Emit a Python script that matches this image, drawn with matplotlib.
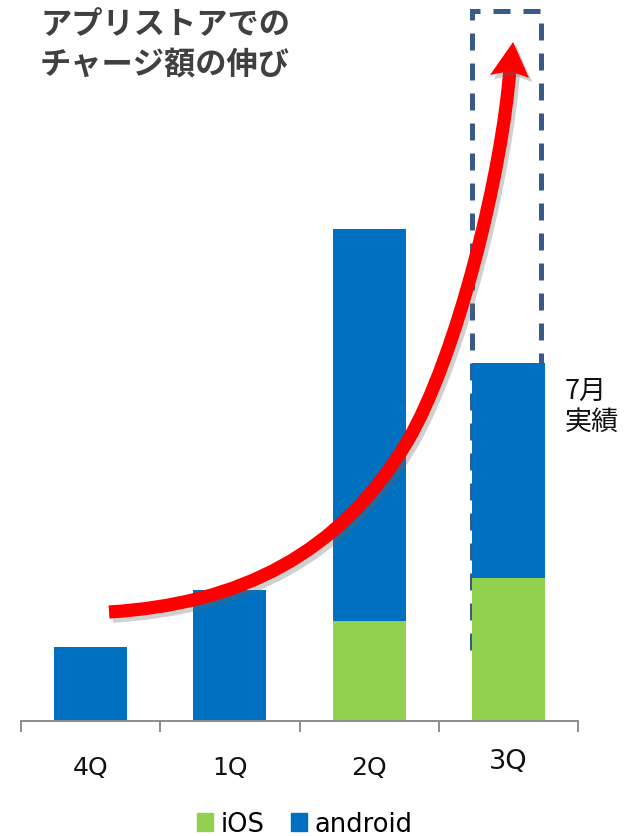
import matplotlib

matplotlib.use("Agg")
import matplotlib.pyplot as plt
import matplotlib.patheffects as pe
from matplotlib.patches import PathPatch, Polygon, Rectangle
from matplotlib.path import Path
import numpy as np

# data (chart units)
quarters = ["4Q", "1Q", "2Q", "3Q"]
ios = [0, 0, 100, 143]
android = [74, 131, 392, 215]
july_label = "7月\n実績"
title_lines = ["アプリストアでの", "チャージ額の伸び"]

BLUE = "#0070C0"
GREEN = "#92D050"
BOX = "#3A5A8A"
JP = ["Noto Sans CJK JP", "DejaVu Sans"]

fig = plt.figure(figsize=(6.31, 8.37), dpi=100)
ax = fig.add_axes([21 / 631, 115 / 837, 557 / 631, 722 / 837])
ax.set_xlim(-0.5, 3.5)
ax.set_ylim(0, 722)

x = np.arange(len(quarters))
width = 0.524

# dashed target box behind the 3Q bar
box = Rectangle((2.737, 60), 0.497, 650, fill=False, edgecolor=BOX,
                linewidth=3.6, linestyle=(0, (3.4, 2.6)), zorder=1)
ax.add_patch(box)

ax.bar(x, ios, width, color=GREEN, zorder=2, label="iOS")
ax.bar(x, android, width, bottom=ios, color=BLUE, zorder=2, label="android")

# axis styling
for side in ["left", "right", "top"]:
    ax.spines[side].set_visible(False)
ax.spines["bottom"].set_color("#8C8C8C")
ax.spines["bottom"].set_linewidth(1.4)
ax.set_yticks([])
ax.set_xticks(np.arange(-0.5, 4, 1.0), minor=True)
ax.tick_params(axis="x", which="minor", length=8, width=1.4, color="#8C8C8C", direction="out")
ax.tick_params(axis="x", which="major", length=0, pad=0)
ax.set_xticks(x)
ax.set_xticklabels([])
for i, q in enumerate(quarters):
    big = q == "3Q"
    ax.text(i, -40 if big else -46, q, ha="center", va="center",
            fontsize=19.5 if big else 18, family="DejaVu Sans", color="#111111")

# red growth arrow with soft shadow
verts = [(0.132, 109), (1.073, 117), (1.791, 167), (2.272, 279),
         (2.631, 363), (2.962, 552), (3.012, 654)]
codes = [Path.MOVETO] + [Path.CURVE4] * 6
shaft = PathPatch(Path(verts, codes), fill=False, edgecolor="#FF0000",
                  linewidth=9.5, capstyle="butt", zorder=4)
shaft.set_path_effects([pe.SimpleLineShadow(offset=(2.5, -3), shadow_color="#666666", alpha=0.3),
                        pe.Normal()])
ax.add_patch(shaft)
head = Polygon([(3.034, 679), (2.868, 646), (3.010, 650), (3.148, 643)], closed=True,
               facecolor="#FF0000", edgecolor="none", zorder=4)
head.set_path_effects([pe.SimplePatchShadow(offset=(2.5, -3), shadow_rgbFace="#666666", alpha=0.3),
                       pe.Normal()])
ax.add_patch(head)

ax.text(3.405, 315, july_label, ha="left", va="center", fontsize=19.5,
        family=JP, color="#111111", linespacing=1.2)

fig.text(40 / 631, 1 - 25 / 837, title_lines[0], ha="left", va="center",
         fontsize=22.5, fontweight="bold", family=JP, color="#404040")
fig.text(40 / 631, 1 - 65 / 837, title_lines[1], ha="left", va="center",
         fontsize=22.5, fontweight="bold", family=JP, color="#404040")

handles = [Rectangle((0, 0), 1, 1, color=GREEN), Rectangle((0, 0), 1, 1, color=BLUE)]
fig.legend(handles, ["iOS", "android"], loc="center", bbox_to_anchor=(0.483, 1 - 825 / 837),
           ncol=2, frameon=False, handlelength=0.65, handleheight=0.65,
           handletextpad=0.3, columnspacing=1.0, prop={"family": "DejaVu Sans", "size": 18.5})

fig.savefig("out.png", dpi=100)
